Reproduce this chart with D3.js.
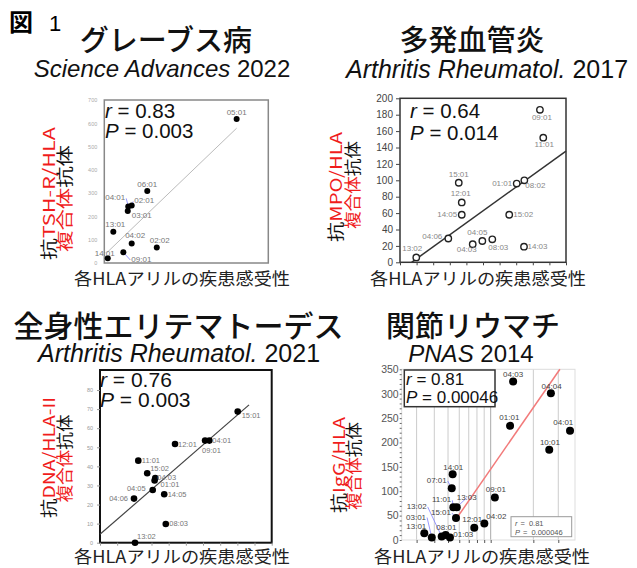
<!DOCTYPE html>
<html>
<head>
<meta charset="utf-8">
<script src="https://cdn.jsdelivr.net/npm/d3@7"></script>
<style>
  body { margin: 0; background: #fff; }
  svg { display: block; }
</style>
</head>
<body>
<div id="chart"></div>
<script>
// Graves disease (Science Advances 2022)
var gravesAlleles = ['05:01', '06:01', '04:01', '02:01', '03:01', '13:01', '04:02', '02:02', '09:01', '14:01'];
var gravesRisk = [8.07, 2.62, 1.46, 1.67, 1.43, 0.55, 1.67, 3.20, 1.16, 0.21];
var gravesAntibody = [618, 309, 243, 247, 223, 134, 84, 67, 46, 20];
var gravesFitRisk = [0.15, 8.07];
var gravesFitAntibody = [44, 579];
var gravesTicks = [0, 100, 200, 300, 400, 500, 600, 700];

// MPA (Arthritis Rheumatol. 2017)
var mpaAlleles = ['09:01', '11:01', '08:02', '01:01', '15:01', '12:01', '14:05', '15:02', '04:06', '04:05', '04:03', '08:03', '14:03', '13:02'];
var mpaRisk = [8.43, 8.63, 7.49, 7.03, 3.54, 3.72, 3.72, 6.58, 2.91, 4.96, 4.38, 5.56, 7.47, 0.98];
var mpaAntibody = [186, 152, 100, 96, 97, 73, 58, 58, 29, 26, 22, 28, 19, 6];
var mpaFitRisk = [0.70, 10];
var mpaFitAntibody = [0, 135.7];
var mpaTicks = [0, 20, 40, 60, 80, 100, 120, 140, 160, 180, 200];

// SLE (Arthritis Rheumatol. 2021)
var sleAlleles = ['15:01', '04:01', '09:01', '12:01', '11:01', '15:02', '04:03', '01:01', '04:05', '14:05', '04:06', '08:03', '13:02'];
var sleRisk = [8.02, 6.37, 6.12, 4.37, 2.23, 2.75, 3.22, 3.18, 3.07, 3.74, 1.98, 3.83, 2.04];
var sleAntibody = [68.7, 53.5, 53.5, 51.7, 43, 36.4, 33.9, 32.6, 27.6, 25.4, 23.1, 9.8, 0];
var sleFitRisk = [0, 8.68];
var sleFitAntibody = [4.4, 72.2];
var sleTicks = [0, 10, 20, 30, 40, 50, 60, 70, 80];

// RA (PNAS 2014), log x axis
var raAlleles = ['04:03', '04:04', '01:01', '04:01', '10:01', '14:01', '07:01', '09:01', '11:01', '13:03', '15:01', '04:02', '12:01', '13:01', '03:01', '13:02', '08:01', '01:03'];
var raRisk = [14.4, 26.6, 13.7, 36.3, 25.9, 5.39, 5.31, 10.7, 5.45, 5.76, 5.69, 9.02, 7.66, 3.40, 3.84, 4.51, 4.81, 5.16];
var raAntibody = [325, 301, 234, 224, 185, 135, 106, 87, 67, 67, 45, 34, 25, 14, 5, 7, 10, 5];
var raFitRisk = [5.75, 30.8];
var raFitAntibody = [44.5, 350];
var raTicks = [0, 50, 100, 150, 200, 250, 300, 350];
var raGrid = [3, 4, 5, 6, 7, 8, 9, 10, 20, 30];

// label placement [dx, dy, anchor, leader]
var gravesLabelPos = [[0, -4, 'middle'], [0, -4, 'middle'], [-3, -6, 'end', 1], [2.5, -2, 'start', 1], [4, 7, 'start'],
    [2, -5, 'middle'], [3.5, -5, 'middle'], [3, -4, 'middle'], [8, 9.7, 'start', 1], [-3, -2, 'middle']];
var mpaLabelPos = [[2, 10, 'middle'], [1, 9, 'middle'], [1, 8, 'start'], [-4.5, 2, 'end'], [0, -6, 'middle'], [-1, -6, 'middle'],
    [-4.5, 2.5, 'end'], [4, 2.5, 'start'], [-6, 0, 'end'], [-5, -6, 'middle'], [-6, 8, 'middle'], [6, 11, 'middle'],
    [3.5, 2.5, 'start'], [-4, -6, 'middle']];
var sleLabelPos = [[4, 6, 'start'], [3, 2.5, 'start'], [-3, 12, 'start'], [3, 2.5, 'start'], [3.5, 2.5, 'start'], [3, -2, 'start'],
    [2, 1.5, 'start'], [6, 7, 'start'], [-7, 1, 'end'], [3.5, 2.5, 'start'], [-6, 2.5, 'end'], [3.5, 2.5, 'start'], [2, -4, 'start']];
var raLabelPos = [[0, -4, 'middle'], [0.7, -4, 'middle'], [-0.7, -6.3, 'middle'], [-6.7, -5.3, 'middle'], [0.7, -4.7, 'middle'],
    [0.6, -4.3, 'middle'], [-5, -5.3, 'end', 1], [1, -5.3, 'middle'], [-2, -5, 'end', 1], [10, -7.6, 'middle', 1],
    [-5, -3, 'end', 1], [2, -4, 'start'], [-2, -5.5, 'middle'], [2, -4, 'end'], [-5.7, -18, 'end', 1],
    [-15, -27.7, 'end', 1], [0.7, -5.5, 'middle'], [3.3, -0.7, 'start']];

var cjk = "'Noto Sans CJK JP', sans-serif",
    latin = "'Liberation Sans', Arial, sans-serif",
    red = '#f01c1c',
    xTitle = '各HLAアリルの疾患感受性';

var svg = d3.select('#chart').append('svg')
    .attr('width', 637)
    .attr('height', 568);

svg.append('rect').attr('width', 637).attr('height', 568).attr('fill', '#fff');

svg.append('text').attr('x', 9).attr('y', 31)
    .attr('font-family', cjk).attr('font-size', 24).attr('font-weight', 'bold')
    .text('図');
svg.append('text').attr('x', 49).attr('y', 31)
    .attr('font-family', latin).attr('font-size', 22)
    .text('1');

var drawPanel = function (o) {
    var g = svg.append('g');
    var x = (o.log ? d3.scaleLog() : d3.scaleLinear()).domain(o.xDomain).range([o.left, o.right]),
        y = d3.scaleLinear().domain(o.yDomain).range([o.bottom, o.top]);

    // titles
    g.append('text').attr('x', o.titleX).attr('y', o.titleY)
        .attr('text-anchor', 'middle').attr('font-family', cjk)
        .attr('font-size', o.titleFont).attr('font-weight', 500).attr('fill', '#111')
        .text(o.title);
    var sub = g.append('text').attr('x', o.subX).attr('y', o.subY)
        .attr('text-anchor', 'middle').attr('font-family', latin)
        .attr('font-size', o.subFont).attr('fill', '#111');
    sub.append('tspan').attr('font-style', 'italic').text(o.journal + ' ');
    sub.append('tspan').text(o.year);

    // grid (log panel)
    if (o.grid) {
        g.selectAll('.grid').data(o.grid).enter().append('line')
            .attr('x1', function (d) { return x(d); })
            .attr('x2', function (d) { return x(d); })
            .attr('y1', o.top).attr('y2', o.bottom)
            .attr('stroke', function (d) { return d === 10 ? '#aaa' : '#ccc'; })
            .attr('stroke-width', 1);
    }

    // frame
    g.append('rect').attr('x', o.left).attr('y', o.top)
        .attr('width', o.right - o.left).attr('height', o.bottom - o.top)
        .attr('fill', 'none').attr('stroke', o.frameColor).attr('stroke-width', o.frameWidth);

    // y axis
    var ya = g.append('g').attr('transform', 'translate(' + o.left + ',0)')
        .call(d3.axisLeft(y).tickValues(o.yTicks).tickSize(o.tickSize).tickPadding(o.tickPad));
    ya.select('.domain').remove();
    ya.selectAll('line').attr('stroke', o.tickColor);
    ya.selectAll('text').attr('font-family', latin).attr('font-size', o.tickFont).attr('fill', o.tickColor);

    if (o.minorY) {
        var ym = g.append('g').attr('transform', 'translate(' + o.left + ',0)')
            .call(d3.axisLeft(y).tickValues(o.minorY).tickSize(2).tickFormat(''));
        ym.select('.domain').remove();
        ym.selectAll('line').attr('stroke', '#666');
    }

    // x ticks (no labels)
    var xa = g.append('g').attr('transform', 'translate(0,' + o.bottom + ')')
        .call(d3.axisBottom(x).tickValues(o.xTicks).tickSize(3).tickFormat(''));
    xa.select('.domain').remove();
    xa.selectAll('line').attr('stroke', o.tickColor);

    // fit line
    g.append('line')
        .attr('x1', x(o.fitX[0])).attr('y1', y(o.fitY[0]))
        .attr('x2', x(o.fitX[1])).attr('y2', y(o.fitY[1]))
        .attr('stroke', o.fitColor).attr('stroke-width', o.fitWidth);

    var pts = o.alleles.map(function (a, i) {
        return { name: a, cx: x(o.xs[i]), cy: y(o.ys[i]), pos: o.labelPos[i] };
    });

    // leader lines
    g.selectAll('.leader').data(pts.filter(function (d) { return d.pos[3]; })).enter().append('line')
        .attr('x1', function (d) { return d.cx; })
        .attr('y1', function (d) { return d.cy; })
        .attr('x2', function (d) { return d.cx + d.pos[0] + (d.pos[2] === 'end' ? 1 : d.pos[2] === 'start' ? -1 : 0); })
        .attr('y2', function (d) { return d.cy + d.pos[1] - 2; })
        .attr('stroke', '#7f7fff').attr('stroke-width', 0.8);

    // points
    g.selectAll('.pt').data(pts).enter().append('circle')
        .attr('cx', function (d) { return d.cx; })
        .attr('cy', function (d) { return d.cy; })
        .attr('r', o.r)
        .attr('fill', o.hollow ? '#fff' : '#000')
        .attr('stroke', o.hollow ? '#222' : 'none')
        .attr('stroke-width', 1.4);

    g.selectAll('.lbl').data(pts).enter().append('text')
        .attr('x', function (d) { return d.cx + d.pos[0]; })
        .attr('y', function (d) { return d.cy + d.pos[1]; })
        .attr('text-anchor', function (d) { return d.pos[2]; })
        .attr('font-family', latin).attr('font-size', o.labelFont).attr('fill', o.labelColor)
        .text(function (d) { return d.name; });

    // r / P
    if (o.statBox) {
        g.append('rect').attr('x', o.statBox[0]).attr('y', o.statBox[1])
            .attr('width', o.statBox[2]).attr('height', o.statBox[3])
            .attr('fill', '#fff').attr('stroke', '#333').attr('stroke-width', 1.5);
    }
    var r1 = g.append('text').attr('x', o.statX).attr('y', o.statY[0])
        .attr('font-family', latin).attr('font-size', o.statFont).attr('fill', '#111');
    r1.append('tspan').attr('font-style', 'italic').text('r');
    r1.append('tspan').text(' = ' + o.r2);
    var p1 = g.append('text').attr('x', o.statX).attr('y', o.statY[1])
        .attr('font-family', latin).attr('font-size', o.statFont).attr('fill', '#111');
    p1.append('tspan').attr('font-style', 'italic').text('P');
    p1.append('tspan').text(' = ' + o.p);

    // y title, two rotated lines stretched to the reference length
    o.yTitle.forEach(function (line, k) {
        var c = o.yTitlePos[k];
        var t = g.append('text')
            .attr('transform', 'translate(' + c[0] + ',' + c[1] + ') rotate(-90)')
            .attr('text-anchor', 'middle').attr('dominant-baseline', 'central')
            .attr('font-family', cjk).attr('font-size', 16.5)
            .attr('textLength', c[2]).attr('lengthAdjust', 'spacingAndGlyphs');
        line.forEach(function (part) {
            t.append('tspan').attr('fill', part[1] ? red : '#111').text(part[0]);
        });
    });

    // x title
    g.append('text').attr('x', o.xTitleX).attr('y', o.xTitleY)
        .attr('text-anchor', 'middle').attr('font-family', cjk)
        .attr('font-size', 17).attr('fill', '#222')
        .attr('textLength', 216).attr('lengthAdjust', 'spacingAndGlyphs')
        .text(xTitle);

    return { g: g, x: x, y: y };
};

drawPanel({
    title: 'グレーブス病', titleX: 166, titleY: 51, titleFont: 29,
    journal: 'Science Advances', year: '2022', subX: 162, subY: 77, subFont: 24,
    left: 104.3, right: 268.3, top: 100, bottom: 263,
    xDomain: [0, 10], yDomain: [0, 700], yTicks: gravesTicks, xTicks: [],
    tickSize: 0, tickPad: 7, tickFont: 5.5, tickColor: '#aaa',
    frameColor: '#888', frameWidth: 1.5,
    alleles: gravesAlleles, xs: gravesRisk, ys: gravesAntibody, labelPos: gravesLabelPos,
    r: 3, labelFont: 8, labelColor: '#777',
    fitX: gravesFitRisk, fitY: gravesFitAntibody, fitColor: '#bbb', fitWidth: 1,
    statX: 105, statY: [118, 138], statFont: 20.5, r2: '0.83', p: '0.003',
    yTitle: [[['抗', 0], ['TSH-R/HLA', 1]], [['複合体', 1], ['抗体', 0]]],
    yTitlePos: [[48, 193.5, 133], [64, 198.5, 107]],
    xTitleX: 182, xTitleY: 285
});

drawPanel({
    title: '多発血管炎', titleX: 472, titleY: 51, titleFont: 29,
    journal: 'Arthritis Rheumatol.', year: '2017', subX: 487, subY: 78, subFont: 25,
    left: 400, right: 566, top: 98.3, bottom: 262.3,
    xDomain: [0, 10], yDomain: [0, 200], yTicks: mpaTicks, xTicks: d3.range(0, 11),
    tickSize: 4, tickPad: 3, tickFont: 10, tickColor: '#444',
    frameColor: '#333', frameWidth: 1.5,
    alleles: mpaAlleles, xs: mpaRisk, ys: mpaAntibody, labelPos: mpaLabelPos,
    r: 3.2, hollow: true, labelFont: 8, labelColor: '#888',
    fitX: mpaFitRisk, fitY: mpaFitAntibody, fitColor: '#333', fitWidth: 1.5,
    statX: 410, statY: [118, 140], statFont: 20.5, r2: '0.64', p: '0.014',
    yTitle: [[['抗', 0], ['MPO/HLA', 1]], [['複合体', 1], ['抗体', 0]]],
    yTitlePos: [[335, 187, 110], [352, 185, 88]],
    xTitleX: 478, xTitleY: 285
});

drawPanel({
    title: '全身性エリテマトーデス', titleX: 178.5, titleY: 336.5, titleFont: 30,
    journal: 'Arthritis Rheumatol.', year: '2021', subX: 179, subY: 362, subFont: 25,
    left: 100, right: 271.7, top: 370, bottom: 542.7,
    xDomain: [0, 10], yDomain: [0, 90.5], yTicks: sleTicks, xTicks: d3.range(0, 11),
    tickSize: 3, tickPad: 4, tickFont: 5.5, tickColor: '#999',
    frameColor: '#111', frameWidth: 2,
    alleles: sleAlleles, xs: sleRisk, ys: sleAntibody, labelPos: sleLabelPos,
    r: 3.3, labelFont: 7.5, labelColor: '#777',
    fitX: sleFitRisk, fitY: sleFitAntibody, fitColor: '#444', fitWidth: 1.2,
    statX: 100, statY: [386.5, 406.5], statFont: 21, r2: '0.76', p: '0.003',
    yTitle: [[['抗', 0], ['DNA/HLA-II', 1]], [['複合体', 1], ['抗体', 0]]],
    yTitlePos: [[48, 457.5, 121], [64, 458.5, 88]],
    xTitleX: 182, xTitleY: 563
});

var ra = drawPanel({
    title: '関節リウマチ', titleX: 473, titleY: 336.5, titleFont: 29,
    journal: 'PNAS', year: '2014', subX: 471, subY: 362, subFont: 24,
    left: 401.7, right: 575, top: 369.3, bottom: 540,
    log: true, xDomain: [2.355, 39.36], yDomain: [0, 350], yTicks: raTicks, xTicks: raGrid,
    minorY: d3.range(0, 351, 10),
    tickSize: 0, tickPad: 3, tickFont: 10.5, tickColor: '#555',
    frameColor: '#ddd', frameWidth: 1, grid: raGrid,
    alleles: raAlleles, xs: raRisk, ys: raAntibody, labelPos: raLabelPos,
    r: 4, labelFont: 8, labelColor: '#444',
    fitX: raFitRisk, fitY: raFitAntibody, fitColor: '#f27a7a', fitWidth: 1.5,
    statBox: [404.3, 370, 90.7, 36.7],
    statX: 406, statY: [385, 403.3], statFont: 17, r2: '0.81', p: '0.00046',
    yTitle: [[['抗', 0], ['IgG/HLA', 1]], [['複合体', 1], ['抗体', 0]]],
    yTitlePos: [[337.5, 465, 96], [353, 466, 88]],
    xTitleX: 482, xTitleY: 563
});

// small stats legend in the RA panel
ra.g.append('rect').attr('x', 511).attr('y', 516.7).attr('width', 60.7).attr('height', 20)
    .attr('fill', '#fff').attr('stroke', '#999').attr('stroke-width', 1);
var leg1 = ra.g.append('text').attr('x', 515).attr('y', 525.5)
    .attr('font-family', latin).attr('font-size', 7.5).attr('fill', '#555');
leg1.append('tspan').attr('font-style', 'italic').text('r');
leg1.append('tspan').attr('dx', 3).text('=');
leg1.append('tspan').attr('dx', 4).text('0.81');
var leg2 = ra.g.append('text').attr('x', 515).attr('y', 534.5)
    .attr('font-family', latin).attr('font-size', 7.5).attr('fill', '#555');
leg2.append('tspan').attr('font-style', 'italic').text('P');
leg2.append('tspan').attr('dx', 3).text('=');
leg2.append('tspan').attr('dx', 4).text('0.000046');
</script>
</body>
</html>
